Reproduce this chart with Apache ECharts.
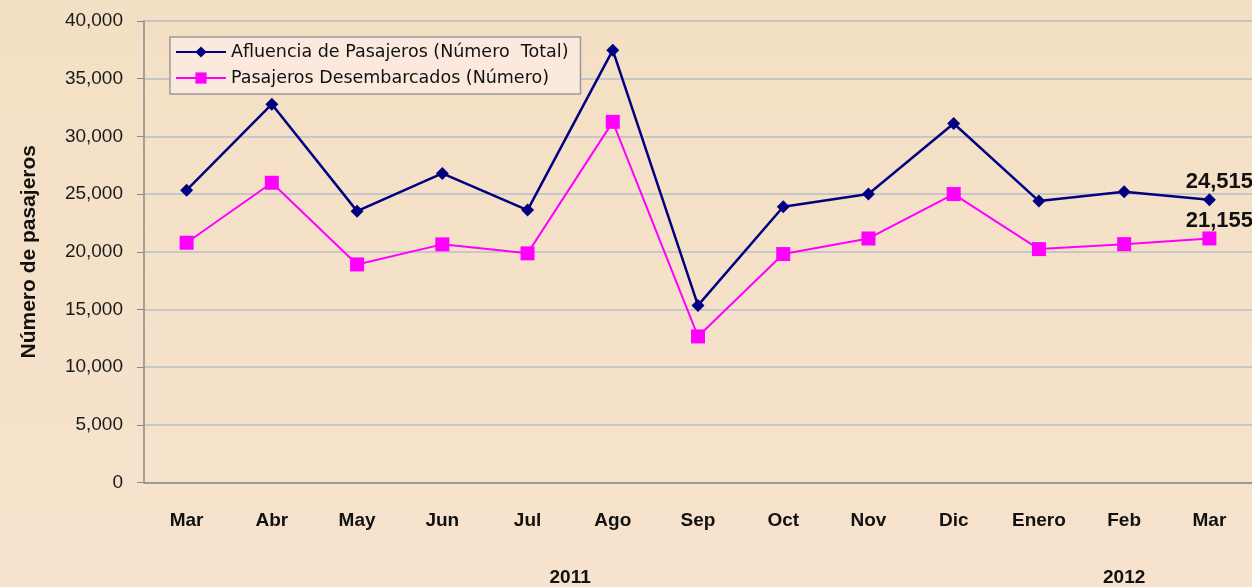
<!DOCTYPE html>
<html>
<head>
<meta charset="utf-8">
<script src="https://cdn.jsdelivr.net/npm/echarts@6/dist/echarts.min.js"></script>
<style>
html,body{margin:0;padding:0;background:#f4e2c8;}
#chart{width:1252px;height:587px;}
</style>
</head>
<body>
<div id="chart"></div>
<script>
// datos
var meses = ['Mar','Abr','May','Jun','Jul','Ago','Sep','Oct','Nov','Dic','Enero','Feb','Mar'];
var afluencia = [25340,32790,23520,26790,23610,37470,15350,23900,25000,31120,24390,25200,24515];
var desembarcados = [20780,25980,18900,20640,19860,31260,12660,19800,21150,25000,20230,20660,21155];
var anios = ['2011','2012'];
var aniosDesde = [0,10];   // indice primer mes de cada año
var aniosHasta = [9,12];
var yTicks = {min:0, max:40000, interval:5000};

var myChart = echarts.init(document.getElementById('chart'));

function ultimo(params){
  if(params.dataIndex == meses.length-1){
    return params.value.toLocaleString('en-US');
  }
  return '';
}

option = {
  backgroundColor: {
    type:'linear', x:0, y:0, x2:0, y2:1,
    colorStops:[{offset:0,color:'#f3e0c4'},{offset:1,color:'#f7e2cd'}]
  },
  textStyle:{fontFamily:'Liberation Sans, Arial, sans-serif'},
  grid:{left:144, top:21, width:1111, bottom:104.5, containLabel:false},
  legend:{
    orient:'vertical',
    left:170, top:37,
    padding:[6,12,7,5],
    itemGap:8,
    itemWidth:50, itemHeight:14,
    backgroundColor:'#fbe9dd',
    borderColor:'#9a9a9a', borderWidth:1.5,
    textStyle:{fontSize:17.5, color:'#111', fontFamily:'DejaVu Sans, Verdana, sans-serif'},
    data:['Afluencia de Pasajeros (Número  Total)','Pasajeros Desembarcados (Número)']
  },
  xAxis:{
    type:'category',
    data:meses,
    boundaryGap:true,
    axisLine:{lineStyle:{color:'#8a8a8a', width:1.5}},
    axisTick:{show:false},
    axisLabel:{margin:29, fontSize:19, fontWeight:'bold', color:'#111',
      fontFamily:'Liberation Sans Narrow, Arial Narrow, Liberation Sans, sans-serif'}
  },
  yAxis:{
    type:'value',
    min:yTicks.min, max:yTicks.max, interval:yTicks.interval,
    name:'Número de pasajeros',
    nameLocation:'middle',
    nameGap:104,
    nameTextStyle:{fontSize:21, fontWeight:'bold', color:'#111'},
    axisLine:{show:true, lineStyle:{color:'#8a8a8a', width:1.5}},
    axisTick:{show:true, length:7, lineStyle:{color:'#8a8a8a'}},
    axisLabel:{margin:21, fontSize:19, color:'#1a1a1a',
      formatter:function(v){return v.toLocaleString('en-US');}},
    splitLine:{lineStyle:{color:'#b9bcc6', width:1.5}}
  },
  series:[
    {
      name:'Afluencia de Pasajeros (Número  Total)',
      type:'line',
      data:afluencia,
      symbol:'diamond', symbolSize:13,
      lineStyle:{color:'#000080', width:2.5},
      itemStyle:{color:'#000080'},
      label:{show:true, position:'top', offset:[10,5], formatter:ultimo,
        fontSize:22, fontWeight:'bold', color:'#111'},
      z:3
    },
    {
      name:'Pasajeros Desembarcados (Número)',
      type:'line',
      data:desembarcados,
      symbol:'rect', symbolSize:14,
      lineStyle:{color:'#ff00ff', width:2},
      itemStyle:{color:'#ff00ff'},
      label:{show:true, position:'top', offset:[10,6], formatter:ultimo,
        fontSize:22, fontWeight:'bold', color:'#111'},
      z:2
    }
  ]
};

myChart.setOption(option);

// etiquetas de año centradas bajo sus meses
function ponerAnios(){
  var g = [];
  for(var i=0;i<anios.length;i++){
    var a = myChart.convertToPixel({xAxisIndex:0}, aniosDesde[i]);
    var b = myChart.convertToPixel({xAxisIndex:0}, aniosHasta[i]);
    g.push({
      type:'text',
      x:(a+b)/2, y:578,
      style:{text:anios[i], fill:'#111', font:'bold 19px "Liberation Sans Narrow", "Liberation Sans", sans-serif',
        align:'center', verticalAlign:'middle'}
    });
  }
  myChart.setOption({graphic:g});
}
ponerAnios();

window.addEventListener('resize', function(){
  myChart.resize();
  ponerAnios();
});
</script>
</body>
</html>
